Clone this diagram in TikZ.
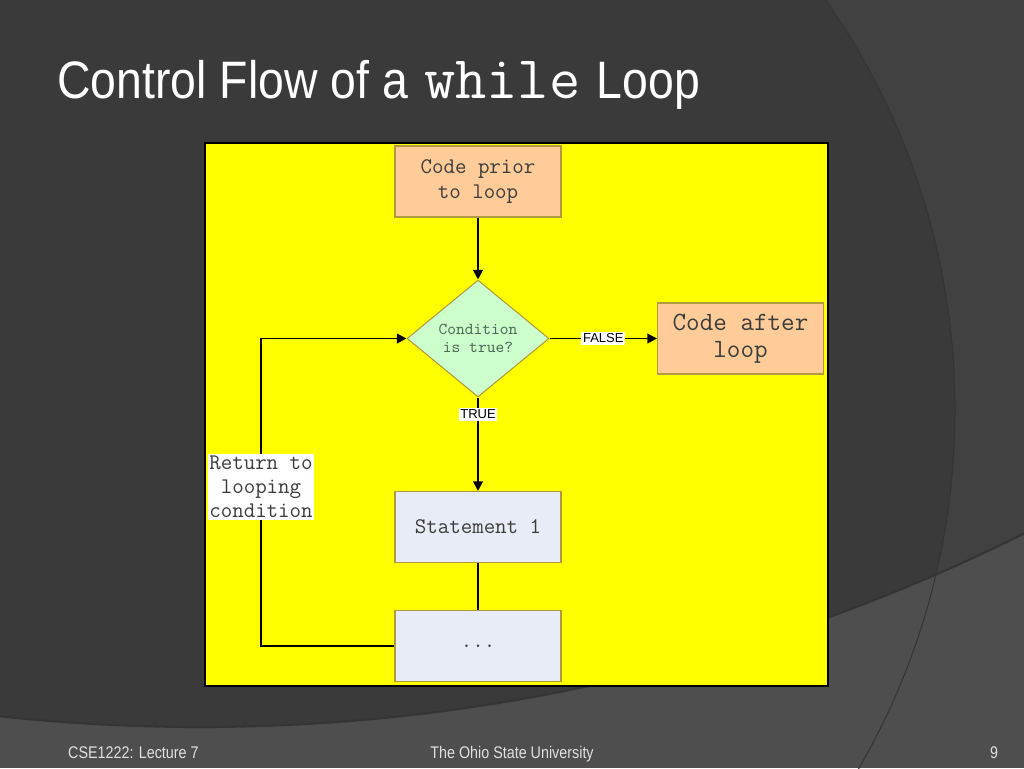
\documentclass[tikz,border=0pt]{standalone}
\usepackage{fontspec}
\setmainfont{Liberation Sans}
\newfontfamily\narrowfont[FakeStretch=0.85]{Liberation Sans}
\newfontfamily\headfont[FakeStretch=0.88]{Liberation Sans}
\usetikzlibrary{shapes.geometric,arrows.meta}

\definecolor{slidedark}{HTML}{3A3A3A}
\definecolor{slidemid}{HTML}{414141}
\definecolor{slidelow}{HTML}{4E4E4E}
\definecolor{slideline}{HTML}{353535}
\definecolor{boardyellow}{HTML}{FFFF00}
\definecolor{boxedge}{HTML}{B09A40}
\definecolor{peach}{HTML}{FFCC99}
\definecolor{stmtblue}{HTML}{E8ECF6}
\definecolor{condgreen}{HTML}{CCFFCC}
\definecolor{codetext}{HTML}{3C3C3C}
\definecolor{condtext}{HTML}{4A6A55}
\definecolor{foottext}{HTML}{E0E0E0}

\begin{document}
\begin{tikzpicture}[x=0.02cm,y=-0.02cm,
    codebox/.style={draw=boxedge, line width=0.6pt, minimum width=3.32cm, minimum height=1.42cm,
        inner sep=0pt, align=center, text=codetext, font=\ttfamily\fontsize{12.7}{13.7}\selectfont},
    decision/.style={diamond, draw=boxedge, fill=condgreen, line width=0.6pt, aspect=1.2,
        minimum width=2.84cm, minimum height=2.34cm, inner sep=0pt, align=center,
        text=condtext, font=\ttfamily\fontsize{9.5}{10.2}\selectfont},
    tag/.style={fill=white, inner sep=1pt, font=\fontsize{7.4}{8}\selectfont},
    flow/.style={line width=1.1pt, -{Triangle[length=5.5pt,width=5.5pt]}},
    foot/.style={text=foottext, font=\narrowfont\fontsize{9.6}{11}\selectfont}]
    \useasboundingbox (0,0) rectangle (1024,768);
    % slide background
    \begin{scope}
        \clip (0,0) rectangle (1024,768);
        \fill[slidelow] (0,0) rectangle (1024,768);
        \fill[slidemid] (200,-1120) circle (1847);
        \begin{scope}
            \clip (200,-1120) circle (1847);
            \fill[slidedark] (240,410) circle (715);
        \end{scope}
        \draw[slideline, line width=1.2pt] (200,-1120) circle (1847);
        \draw[slideline, line width=0.6pt] (240,410) circle (715);
    \end{scope}
    \node[anchor=base west, inner sep=0pt, text=white, font=\headfont\fontsize{30}{36}\selectfont] (title) at (57,98)
        {Control Flow of a\hspace{2pt} {\ttfamily\fontsize{34.5}{36}\selectfont while}\hspace{2pt} Loop};
    \draw[fill=boardyellow, line width=0.6pt] (205,143) rectangle (828,686);
    \node[codebox, fill=peach] (prior) at (478,181.5) {Code prior\\to loop};
    \node[decision] (cond) at (478,338.5) {Condition\\is true?};
    \node[codebox, fill=peach, font=\ttfamily\fontsize{15}{15.4}\selectfont] (after) at (740.5,338.5) {Code after\\loop};
    \node[codebox, fill=stmtblue] (stmt) at (478,527) {Statement 1};
    \node[codebox, fill=stmtblue] (more) at (478,646) {...};
    \node[tag, align=center, text=codetext, font=\ttfamily\fontsize{12.7}{13.7}\selectfont] (back) at (261,487)
        {Return to\\looping\\condition};
    \draw[flow] (prior) -- (cond);
    \draw[flow] (cond) -- node[tag] {FALSE} (after);
    \draw[flow] (cond) -- node[tag, pos=0.18] {TRUE} (stmt);
    \draw[line width=0.8pt] (stmt) -- (more);
    \draw[line width=1.1pt] (more.west) -| (back.south);
    \draw[flow] (back.north) |- (cond.west);
    \node[foot, anchor=base west] (course) at (62,758) {CSE1222: Lecture 7};
    \node[foot, anchor=base] (school) at (512,758) {The Ohio State University};
    \node[foot, anchor=base] (page) at (994,758) {9};
\end{tikzpicture}
\end{document}
